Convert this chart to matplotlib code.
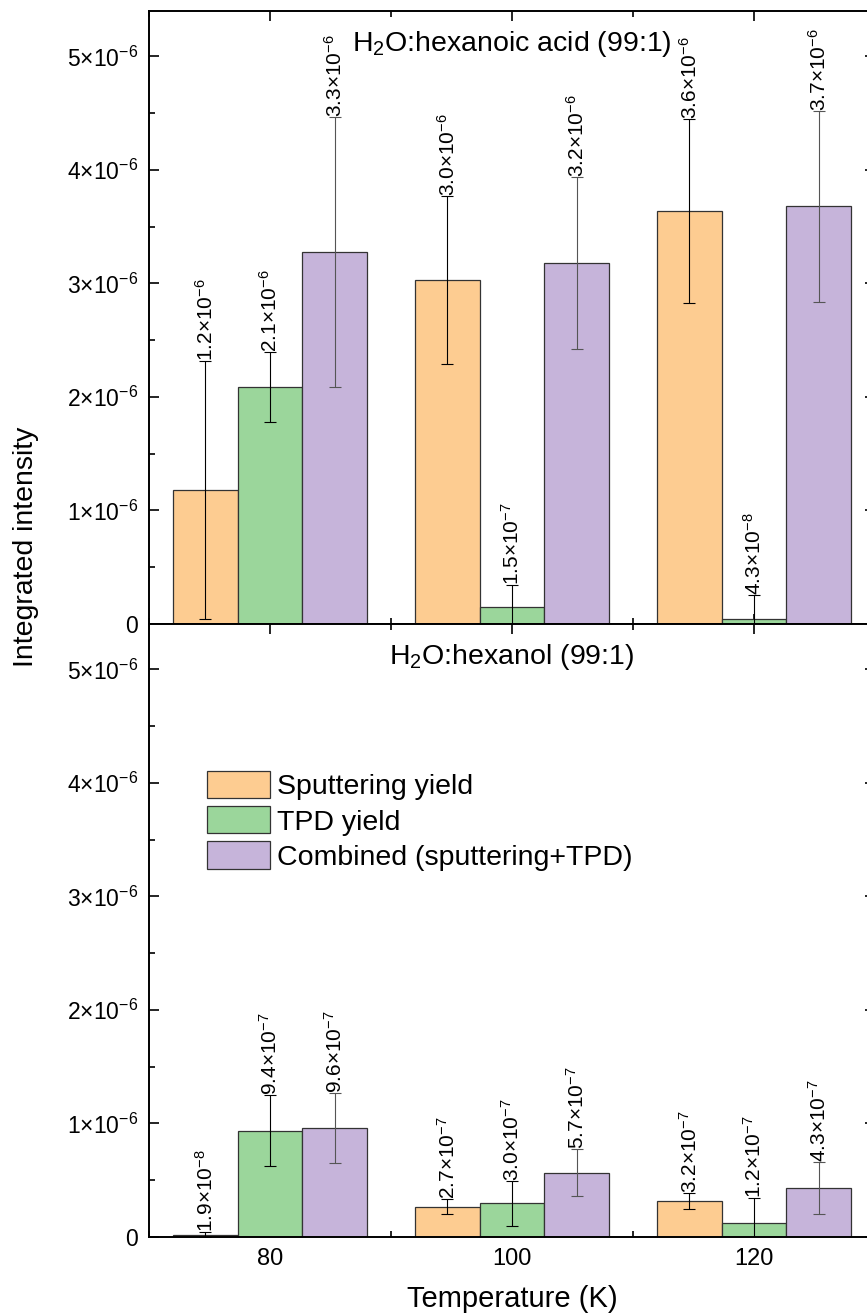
import matplotlib
matplotlib.use('Agg')
import matplotlib.pyplot as plt
from matplotlib.ticker import FuncFormatter, MultipleLocator
import numpy as np

plt.rcParams['font.family'] = ['Liberation Sans', 'DejaVu Sans']
plt.rcParams['mathtext.fontset'] = 'custom'
plt.rcParams['mathtext.rm'] = 'Liberation Sans'
plt.rcParams['mathtext.it'] = 'Liberation Sans:italic'
plt.rcParams['mathtext.bf'] = 'Liberation Sans:bold'

# Temperatures (K)
temps = [80, 100, 120]

# H2O:hexanoic acid (99:1)
acid_sput = [1.18e-6, 3.03e-6, 3.64e-6]
acid_sput_err = [1.14e-6, 0.74e-6, 0.81e-6]
acid_tpd = [2.09e-6, 0.153e-6, 0.043e-6]
acid_tpd_err = [0.31e-6, 0.19e-6, 0.215e-6]
acid_comb = [3.28e-6, 3.18e-6, 3.68e-6]
acid_comb_err = [1.19e-6, 0.76e-6, 0.84e-6]

# H2O:hexanol (99:1)
hexanol_sput = [0.019e-6, 0.268e-6, 0.318e-6]
hexanol_sput_err = [0.021e-6, 0.066e-6, 0.07e-6]
hexanol_tpd = [0.937e-6, 0.297e-6, 0.12e-6]
hexanol_tpd_err = [0.31e-6, 0.2e-6, 0.22e-6]
hexanol_comb = [0.958e-6, 0.567e-6, 0.434e-6]
hexanol_comb_err = [0.31e-6, 0.21e-6, 0.23e-6]

series_labels = ['Sputtering yield', 'TPD yield', 'Combined (sputtering+TPD)']
colors = ['#FDCC91', '#9BD69B', '#C6B4DA']
err_colors = ['black', 'black', '#555555']

bar_w = 16 / 3
offsets = [-bar_w, 0, bar_w]


def sci_label(v):
    m, e = f'{v:.1e}'.split('e')
    return r'$%s{\times}10^{%d}$' % (m, int(e))


def tick_fmt(v, pos):
    if abs(v) < 1e-12:
        return '0'
    m, e = f'{v:.0e}'.split('e')
    return r'$%s{\times}10^{%d}$' % (m, int(e))


def draw_panel(ax, groups, title):
    x = np.array(temps, dtype=float)
    for i, (vals, errs) in enumerate(groups):
        xs = x + offsets[i]
        ax.bar(xs, vals, width=bar_w, color=colors[i], edgecolor='#333333',
               linewidth=0.9, label=series_labels[i], zorder=2)
        ax.errorbar(xs, vals, yerr=errs, fmt='none', ecolor=err_colors[i],
                    elinewidth=0.8, capsize=4, capthick=0.8, zorder=3)
        for xi, v, e in zip(xs, vals, errs):
            ax.text(xi, v + e, sci_label(v), rotation=90, ha='center',
                    va='bottom', fontsize=15, zorder=4)
    ax.set_xlim(70, 130)
    ax.set_ylim(0, 5.4e-6)
    ax.xaxis.set_major_locator(MultipleLocator(20))
    ax.xaxis.set_minor_locator(MultipleLocator(10))
    ax.yaxis.set_major_locator(MultipleLocator(1e-6))
    ax.yaxis.set_minor_locator(MultipleLocator(0.5e-6))
    ax.yaxis.set_major_formatter(FuncFormatter(tick_fmt))
    ax.tick_params(which='both', direction='in', top=True, right=True,
                   width=1.2, pad=8)
    ax.tick_params(axis='y', labelsize=16.5)
    ax.tick_params(axis='x', labelsize=17)
    ax.tick_params(which='major', length=7)
    ax.tick_params(which='minor', length=4)
    for s in ax.spines.values():
        s.set_linewidth(1.4)
    ax.text(0.5, 0.946, title, transform=ax.transAxes, ha='center',
            va='center', fontsize=20.5)


fig = plt.figure(figsize=(8.67, 13.16), dpi=100)
left, right = 149 / 867, 875 / 867
mid = 1 - 624 / 1316
ax_top = fig.add_axes([left, mid, right - left, (1 - 11 / 1316) - mid])
ax_bot = fig.add_axes([left, 1 - 1237 / 1316, right - left, mid - (1 - 1237 / 1316)])

draw_panel(ax_top, [(acid_sput, acid_sput_err), (acid_tpd, acid_tpd_err),
                    (acid_comb, acid_comb_err)], r'H$_2$O:hexanoic acid (99:1)')
draw_panel(ax_bot, [(hexanol_sput, hexanol_sput_err), (hexanol_tpd, hexanol_tpd_err),
                    (hexanol_comb, hexanol_comb_err)], r'H$_2$O:hexanol (99:1)')

ax_top.tick_params(labelbottom=False)
ax_bot.set_xlabel('Temperature (K)', fontsize=21, labelpad=11)
fig.text(26 / 867, 1 - 547 / 1316, 'Integrated intensity', rotation=90,
         ha='center', va='center', fontsize=20.5)

ax_bot.legend(loc='upper left', bbox_to_anchor=(0.08, 0.76), frameon=False,
              fontsize=20.5, borderpad=0, borderaxespad=0, handlelength=2.2,
              handleheight=1.1, handletextpad=0.25, labelspacing=0.2)

fig.savefig('out.png', dpi=100)
